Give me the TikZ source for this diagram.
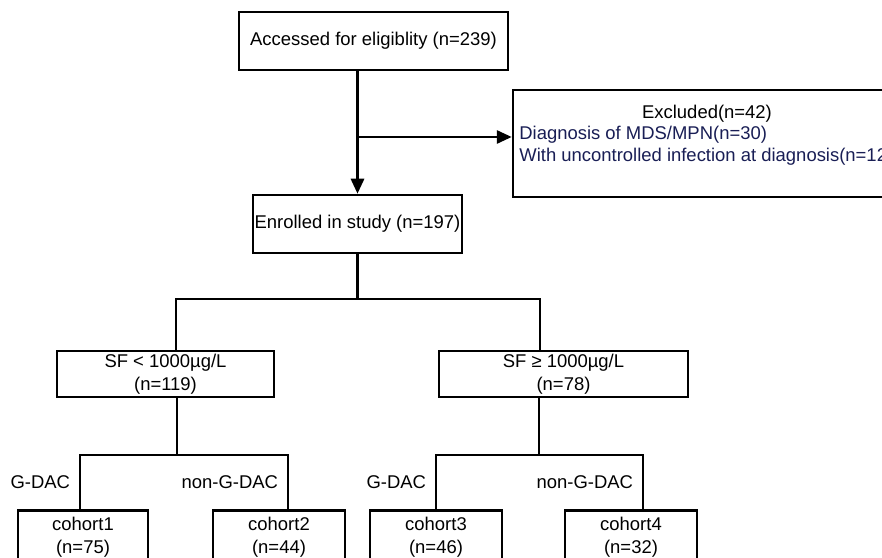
\documentclass[tikz,border=0pt]{standalone}
\usepackage{fontspec}
\setmainfont{Liberation Sans}
\usetikzlibrary{arrows.meta}
\definecolor{exnavy}{RGB}{25,30,85}
\tikzset{
  flowbox/.style={draw, line width=1.5pt, inner sep=0pt, align=center, font=\fontsize{10.5}{13}\selectfont},
  flowline/.style={line width=1.4pt},
  flowarrow/.style={line width=1.4pt, -{Triangle[length=8.5pt,width=7.5pt]}},
  armlabel/.style={font=\fontsize{10.5}{13}\selectfont, inner sep=5pt}
}
\begin{document}
\begin{tikzpicture}
  \useasboundingbox (0,0) rectangle (17.64,11.14);

  \node [flowbox, minimum width=5.38cm, minimum height=1.16cm] (access) at (7.47,10.32) {Accessed for eligiblity (n=239)};
  \node [flowbox, minimum width=7.76cm, minimum height=2.14cm] (excl) at (14.14,8.27) {};
    \node [font=\fontsize{10.5}{13}\selectfont, inner sep=0pt, anchor=base] (exclhead) at (14.14,8.76) {Excluded(n=42)};
    \node [font=\fontsize{10.5}{12.6}\selectfont, text=exnavy, inner sep=0pt, align=left, anchor=base west] (excllist) at (10.38,7.90)
      {Diagnosis of MDS/MPN(n=30)\\With uncontrolled infection at diagnosis(n=12)};
  \node [flowbox, minimum width=4.18cm, minimum height=1.16cm] (enrol) at (7.15,6.66) {Enrolled in study (n=197)};
    \coordinate (split) at (7.16,8.40);

  \node [flowbox, minimum width=4.34cm, minimum height=0.92cm] (sflow) at (3.31,3.66) {SF < 1000µg/L\\(n=119)};
  \node [flowbox, minimum width=4.98cm, minimum height=0.92cm] (sfhigh) at (11.27,3.66) {SF ≥ 1000µg/L\\(n=78)};
    \coordinate (lowjoin) at (3.52,5.16);
    \coordinate (highjoin) at (10.80,5.16);

  \node [flowbox, minimum width=2.60cm, minimum height=1.08cm, anchor=north] (cohortA) at (1.66,0.96) {cohort1\\(n=75)};
  \node [flowbox, minimum width=2.64cm, minimum height=1.08cm, anchor=north] (cohortB) at (5.58,0.96) {cohort2\\(n=44)};
  \node [flowbox, minimum width=2.64cm, minimum height=1.08cm, anchor=north] (cohortC) at (8.72,0.96) {cohort3\\(n=46)};
  \node [flowbox, minimum width=2.64cm, minimum height=1.08cm, anchor=north] (cohortD) at (12.62,0.96) {cohort4\\(n=32)};
    \coordinate (lowstem) at (3.54,2.04);
    \coordinate (highstem) at (10.78,2.04);
    \coordinate (lowleft) at (1.60,2.04);
    \coordinate (lowright) at (5.76,2.04);
    \coordinate (highleft) at (8.72,2.04);
    \coordinate (highright) at (12.86,2.04);

  \draw[flowarrow] (access.south -| enrol.north) -- (enrol.north);
  \draw[flowarrow] (split) -- (split -| excl.west);

  \draw[flowline] (enrol.south) -- (enrol.south |- lowjoin);
  \draw[flowline] (lowjoin |- sflow.north) -- (lowjoin) -- (highjoin) -- (highjoin |- sfhigh.north);

  \draw[flowline] (sflow.south -| lowstem) -- (lowstem);
  \draw[flowline] (lowleft |- cohortA.north) -- (lowleft) node [armlabel, midway, left] (gdacA) {G-DAC}
    -- (lowright) -- (lowright |- cohortB.north) node [armlabel, midway, left] (nongdacA) {non-G-DAC};

  \draw[flowline] (sfhigh.south -| highstem) -- (highstem);
  \draw[flowline] (highleft |- cohortC.north) -- (highleft) node [armlabel, midway, left] (gdacB) {G-DAC}
    -- (highright) -- (highright |- cohortD.north) node [armlabel, midway, left] (nongdacB) {non-G-DAC};
\end{tikzpicture}
\end{document}
